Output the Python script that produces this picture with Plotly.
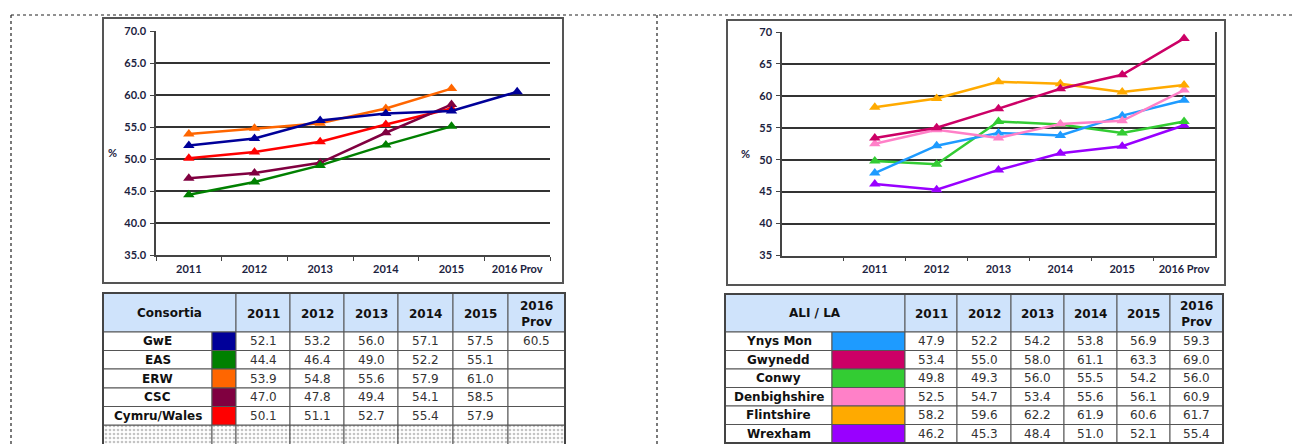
import plotly.graph_objects as go

W, H = 1293, 444

# ---------------- data ----------------
years = ["2011", "2012", "2013", "2014", "2015", "2016 Prov"]
year_headers = ["2011", "2012", "2013", "2014", "2015", "2016<br>Prov"]

consortia = ["GwE", "EAS", "ERW", "CSC", "Cymru/Wales"]
consortia_colors = ["#000099", "#008000", "#ff6600", "#800040", "#ff0000"]
gwe = [52.1, 53.2, 56.0, 57.1, 57.5, 60.5]
eas = [44.4, 46.4, 49.0, 52.2, 55.1, None]
erw = [53.9, 54.8, 55.6, 57.9, 61.0, None]
csc = [47.0, 47.8, 49.4, 54.1, 58.5, None]
wales = [50.1, 51.1, 52.7, 55.4, 57.9, None]
consortia_values = [gwe, eas, erw, csc, wales]
# chart draw order (back to front)
left_order = [4, 3, 1, 2, 0]

las = ["Ynys Mon", "Gwynedd", "Conwy", "Denbighshire", "Flintshire", "Wrexham"]
la_colors = ["#1e9bff", "#cc0066", "#33cc33", "#ff80c8", "#ffaa00", "#9900ff"]
ynys_mon = [47.9, 52.2, 54.2, 53.8, 56.9, 59.3]
gwynedd = [53.4, 55.0, 58.0, 61.1, 63.3, 69.0]
conwy = [49.8, 49.3, 56.0, 55.5, 54.2, 56.0]
denbighshire = [52.5, 54.7, 53.4, 55.6, 56.1, 60.9]
flintshire = [58.2, 59.6, 62.2, 61.9, 60.6, 61.7]
wrexham = [46.2, 45.3, 48.4, 51.0, 52.1, 55.4]
la_values = [ynys_mon, gwynedd, conwy, denbighshire, flintshire, wrexham]
right_order = [5, 2, 0, 3, 4, 1]

y_range = [35, 70]
y_ticks = [35, 40, 45, 50, 55, 60, 65, 70]


def px(x):
    return x / W


def py(y):
    return 1 - y / H


fig = go.Figure()

for i in left_order:
    fig.add_trace(go.Scatter(
        x=years, y=consortia_values[i], mode="lines+markers", name=consortia[i],
        line=dict(color=consortia_colors[i], width=2.5),
        marker=dict(symbol="triangle-up", size=10, color=consortia_colors[i]),
        xaxis="x", yaxis="y", showlegend=False, connectgaps=False))

for i in right_order:
    fig.add_trace(go.Scatter(
        x=years, y=la_values[i], mode="lines+markers", name=las[i],
        line=dict(color=la_colors[i], width=2.5),
        marker=dict(symbol="triangle-up", size=10, color=la_colors[i]),
        xaxis="x2", yaxis="y2", showlegend=False))

tick_font = dict(family="Lato", size=11, color="#1c2340", weight="bold")
axis_common = dict(showline=True, linecolor="#444", linewidth=1.5, ticks="outside",
                   ticklen=4, tickcolor="#444", tickfont=tick_font, zeroline=False,
                   automargin=False)

fig.update_layout(
    width=W, height=H, margin=dict(l=0, r=0, t=0, b=0, autoexpand=False),
    paper_bgcolor="white", plot_bgcolor="rgba(0,0,0,0)",
    xaxis=dict(domain=[px(156), px(550)], type="category", categoryorder="array",
               categoryarray=years, range=[-0.5, 5.5], tickson="boundaries",
               showgrid=False, anchor="y", ticklabelstandoff=3, **axis_common),
    yaxis=dict(domain=[py(255), py(31)], range=y_range, tickvals=y_ticks,
               tickformat=".1f", showgrid=True, gridcolor="#333", gridwidth=1.6,
               anchor="x", ticklabelstandoff=2, **axis_common),
    xaxis2=dict(domain=[px(782), px(1215)], type="category", categoryorder="array",
                categoryarray=years, range=[-1.5, 5.5], tickson="boundaries",
                showgrid=False, anchor="y2", ticklabelstandoff=3, **axis_common),
    yaxis2=dict(domain=[py(255.5), py(32)], range=y_range, tickvals=y_ticks,
                tickformat="d", showgrid=True, gridcolor="#333", gridwidth=1.6,
                anchor="x2", mirror=True, ticklabelstandoff=2, **axis_common),
    # pixel overlay axis for patterned cells
    xaxis3=dict(domain=[0, 1], range=[0, W], visible=False, fixedrange=True,
                anchor="y3"),
    yaxis3=dict(domain=[0, 1], range=[H, 0], visible=False, fixedrange=True,
                anchor="x3"),
    hovermode=False,
)

shapes = []
annots = []

# page dotted frame
for (x0, y0, x1, y1) in [(11, 15, W, 15), (11, 15, 11, H), (657, 15, 657, H)]:
    shapes.append(dict(type="line", xref="paper", yref="paper",
                       x0=px(x0), y0=py(y0), x1=px(x1), y1=py(y1),
                       line=dict(color="#222", width=1.2, dash="dot")))

# chart boxes
for (x0, y0, x1, y1) in [(103, 18, 563, 283), (727, 20, 1225, 285)]:
    shapes.append(dict(type="rect", xref="paper", yref="paper",
                       x0=px(x0), y0=py(y0), x1=px(x1), y1=py(y1),
                       line=dict(color="#555", width=2), layer="below"))

# % labels
for (x, y) in [(119, 144), (752, 145)]:
    annots.append(dict(text="%", x=px(x), y=py(y), xref="paper", yref="paper",
                       xanchor="right", showarrow=False, font=tick_font))

header_fill = "#cfe3fb"
grid_col = "#555"
head_font = dict(family="DejaVu Sans", size=12, color="#111", weight="bold")
label_font = dict(family="DejaVu Sans", size=12, color="#111", weight="bold")
val_font = dict(family="DejaVu Sans", size=12, color="#333")


def rect(x0, y0, x1, y1, fill, lw=1):
    shapes.append(dict(type="rect", xref="paper", yref="paper",
                       x0=px(x0), y0=py(y0), x1=px(x1), y1=py(y1),
                       fillcolor=fill, line=dict(color=grid_col, width=lw)))


def text(t, x, y, font):
    annots.append(dict(text=t, x=px(x), y=py(y), xref="paper", yref="paper",
                       showarrow=False, font=font, xanchor="center", yanchor="middle"))


def draw_table(cols, head_y, row_ys, title, labels, colors, values, hatch_row=None):
    # header
    rect(cols[0], head_y[0], cols[2], head_y[1], header_fill)
    text(title, (cols[0] + cols[2]) / 2, (head_y[0] + head_y[1]) / 2, head_font)
    for j, h in enumerate(year_headers):
        rect(cols[j + 2], head_y[0], cols[j + 3], head_y[1], header_fill)
        text(h, (cols[j + 2] + cols[j + 3]) / 2, (head_y[0] + head_y[1]) / 2 + 1, head_font)
    for r, lab in enumerate(labels):
        y0, y1 = row_ys[r], row_ys[r + 1]
        ym = (y0 + y1) / 2
        rect(cols[0], y0, cols[1], y1, "white")
        text(lab, (cols[0] + cols[1]) / 2, ym, label_font)
        rect(cols[1], y0, cols[2], y1, colors[r])
        for j in range(len(years)):
            rect(cols[j + 2], y0, cols[j + 3], y1, "white")
            v = values[r][j]
            if v is not None:
                text(f"{v:.1f}", (cols[j + 2] + cols[j + 3]) / 2, ym, val_font)
    if hatch_row is not None:
        y0, y1 = hatch_row
        for j in range(len(cols) - 1):
            x0, x1 = cols[j], cols[j + 1]
            fig.add_trace(go.Scatter(
                x=[x0, x1, x1, x0, x0], y=[y0, y0, y1, y1, y0], mode="lines",
                fill="toself", fillcolor="white",
                fillpattern=dict(shape=".", fgcolor="#8a8a8a", bgcolor="white",
                                 size=4, solidity=0.35),
                line=dict(color=grid_col, width=1), xaxis="x3", yaxis="y3",
                showlegend=False, hoverinfo="skip"))
    # outer border
    shapes.append(dict(type="rect", xref="paper", yref="paper",
                       x0=px(cols[0]), y0=py(head_y[0]), x1=px(cols[-1]),
                       y1=py(row_ys[-1] if hatch_row is None else hatch_row[1]),
                       line=dict(color="#444", width=2)))


left_cols = [103, 212, 236, 290, 344, 398, 453, 508, 565]
left_rows = [332, 350.5, 369, 388, 406.5, 425]
draw_table(left_cols, (293, 332), left_rows, "Consortia", consortia,
           consortia_colors, consortia_values, hatch_row=(425, 446))

right_cols = [725, 832, 905, 957, 1011, 1064, 1117, 1170, 1223]
right_rows = [332, 350.5, 369, 387.5, 406, 424.5, 443]
draw_table(right_cols, (294, 332), right_rows, "ALI / LA", las,
           la_colors, la_values)

fig.update_layout(shapes=shapes, annotations=annots)
fig.write_html("out.html", config={"displayModeBar": False},
               post_script="document.body.style.margin='0';document.body.style.overflow='hidden';")
